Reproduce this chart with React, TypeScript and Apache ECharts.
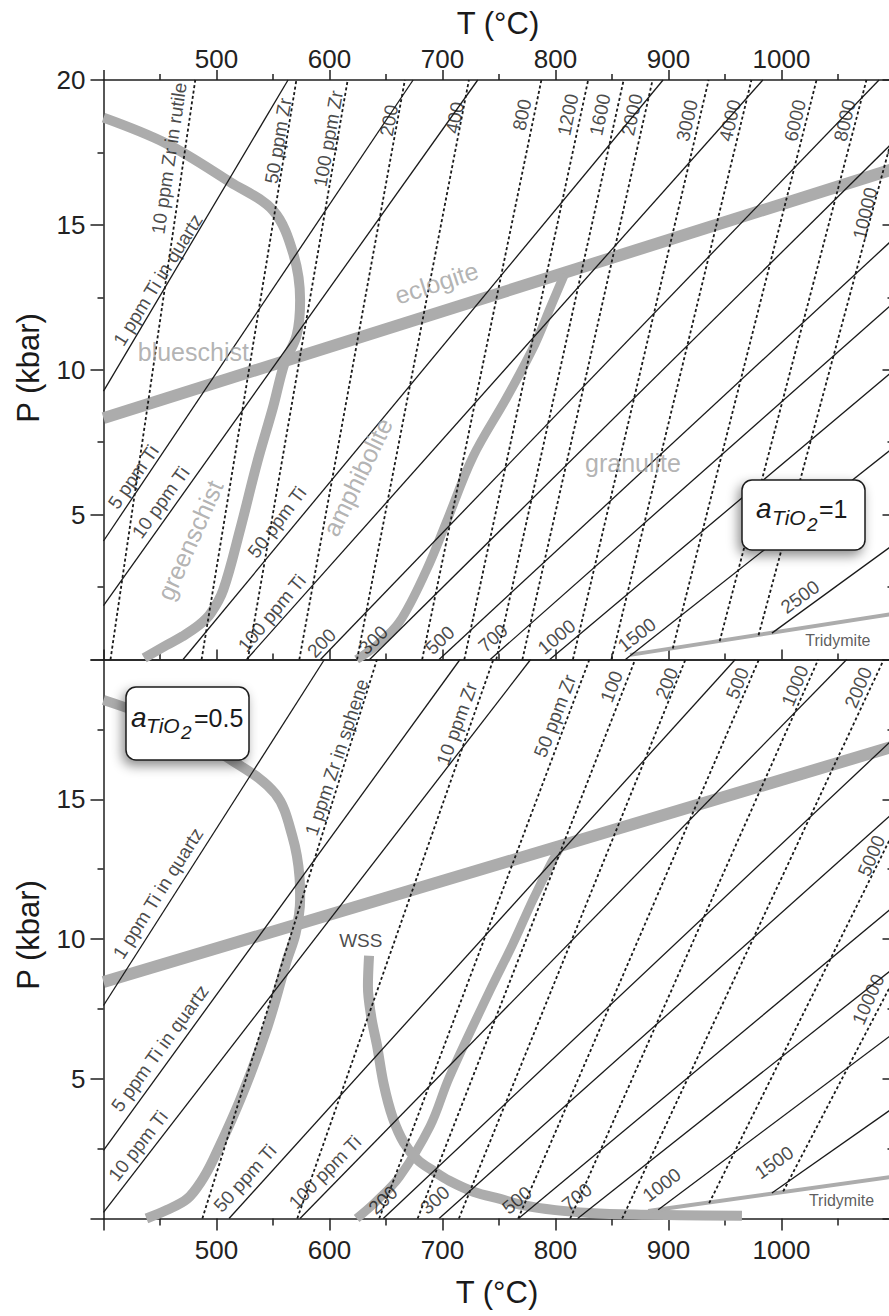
import React, { useEffect, useRef } from "react";
import * as echarts from "echarts";

const FONT = "'Liberation Sans', Arial, Helvetica, sans-serif";
const AX = "#1f1f1f";
const INK = "#1a1a1a";
const GRAY = "#acacac";
const GRAY_TEXT = "#a0a0a0";

// Axis ranges (T in °C, P in kbar)
const T_MIN = 400;
const T_MAX = 1100;
const T_STEP = 100;
const P_MIN = 0;
const P_MAX = 20;
const P_STEP = 5;

// ---------- upper panel (aTiO2 = 1) ----------
// Ti-in-quartz isopleths (1,5,10,50,100,200,300,500,700,1000,1500,2500 ppm): [T1, P1, T2, P2]
const tiQuartzA1: number[][] = [
  [400, 9.26, 563.3, 20],
  [400, 4.09, 674.0, 20],
  [400, 1.86, 731.2, 20],
  [470.4, 0, 895.2, 20],
  [526.6, 0, 983.5, 20],
  [592.0, 0, 1086.3, 20],
  [635.5, 0, 1100, 17.9],
  [697.0, 0, 1100, 14.55],
  [742.2, 0, 1100, 12.34],
  [794.9, 0, 1100, 10.0],
  [861.9, 0, 1100, 7.34],
  [991.5, 0.91, 1100, 3.99],
];
// Zr-in-rutile isopleths (10 ... 10000 ppm): [T1, P1, T2, P2]
const zrRutile: number[][] = [
  [406.2, 0, 481.2, 20],
  [486.8, 0, 570.7, 20],
  [527.7, 0, 616.1, 20],
  [573.3, 0, 666.7, 20],
  [624.4, 0, 723.4, 20],
  [682.0, 0, 787.5, 20],
  [719.3, 0, 828.9, 20],
  [747.6, 0, 860.3, 20],
  [770.7, 0, 885.9, 20],
  [815.4, 0, 935.5, 20],
  [849.5, 0, 973.4, 20],
  [903.8, 0.38, 1031.0, 20],
  [945.3, 0.63, 1075.2, 20],
  [979.7, 0.84, 1100, 18.32],
];
const eclogiteTop: number[][] = [[400, 8.33], [1100, 16.94]];
const greenschistTop: number[][] = [
  [400, 18.7], [456, 17.8], [512, 16.48], [550, 15.5], [568, 14.0], [574, 12.4],
  [571, 11.2], [560, 10.2], [550, 8.7], [536, 6.8], [521, 4.5], [506, 2.4],
  [495, 1.6], [485, 1.2], [470, 0.8], [456, 0.5], [436, 0.05],
];
const amphGranTop: number[][] = [
  [624, 0], [642, 0.5], [662, 1.3], [686, 3.1], [703, 4.7], [727, 7.0],
  [757, 9.05], [782, 10.9], [796, 12.2], [808, 13.3],
];
const tridymiteTop: number[][] = [[866, 0.16], [1100, 1.58]];

// ---------- lower panel (aTiO2 = 0.5) ----------
// Ti-in-quartz isopleths (1,5,10,50,100,200,300,500,700,1000,1500 ppm)
const tiQuartzA05: number[][] = [
  [400, 7.62, 595.5, 20],
  [400, 2.44, 715.5, 20],
  [400, 0.22, 778.0, 20],
  [511.1, 0, 959.1, 20],
  [573.9, 0, 1057.7, 20],
  [647.6, 0, 1100, 17.2],
  [697.0, 0, 1100, 14.55],
  [767.3, 0, 1100, 11.19],
  [819.6, 0, 1100, 8.98],
  [890.9, 0.31, 1100, 6.65],
  [991.5, 0.91, 1100, 3.99],
];
// Zr-in-sphene isopleths (1,10,50,100,200,500,1000,2000,5000,10000 ppm)
const zrSphene: number[][] = [
  [487.5, 0, 642, 20],
  [571.5, 0, 745, 20],
  [644, 0, 830, 20],
  [678, 0, 870.5, 20],
  [714.5, 0, 915, 20],
  [767, 0, 980, 20],
  [813, 0, 1032.5, 20],
  [859, 0, 1090.5, 20],
  [936, 0.55, 1100, 13.9],
  [1001.5, 0.97, 1100, 8.6],
];
const eclogiteBot: number[][] = [[400, 8.46], [1100, 16.9]];
const greenschistBot: number[][] = [
  [400, 18.55], [456, 17.7], [514, 16.38], [552, 15.2], [567, 13.7], [573.5, 12.2],
  [574, 11.4], [570, 10.2], [562, 9.2], [545, 6.85], [521, 4.25], [497, 2.1],
  [486, 1.3], [474, 0.7], [456, 0.3], [438, 0.0],
];
const amphGranBot: number[][] = [
  [624, 0], [641, 0.6], [662, 1.5], [689, 3.3], [706, 5.05], [742, 8.16],
  [762, 9.8], [780, 11.4], [796, 12.7], [806, 13.4],
];
const wssBot: number[][] = [
  [635, 9.4], [634, 8.3], [637, 7.2], [642, 6.2], [648, 4.8], [656, 3.6],
  [666, 2.7], [678, 2.1], [692, 1.7], [706, 1.35], [728, 0.95], [751, 0.7],
  [771, 0.48], [800, 0.3], [830, 0.2], [870, 0.14], [910, 0.12], [965, 0.1],
];
const tridymiteBot: number[][] = [[882, 0.27], [1100, 1.5]];

// ---------- annotations: [text, T, P, rotation°] ----------
const topDashedLabels: [string, number, number, number][] = [
  ["10 ppm Zr in rutile", 458, 17.3, 81.5],
  ["50 ppm Zr", 554.6, 17.9, 80.5],
  ["100 ppm Zr", 599, 17.97, 80],
  ["200", 652.7, 18.6, 79.5],
  ["400", 711, 18.7, 79],
  ["800", 770.4, 18.8, 78.5],
  ["1200", 811, 18.8, 78],
  ["1600", 839.4, 18.8, 78],
  ["2000", 867.7, 18.8, 77.5],
  ["3000", 916.4, 18.6, 77.5],
  ["4000", 954.4, 18.6, 77],
  ["6000", 1012, 18.6, 77],
  ["8000", 1056, 18.6, 76.5],
  ["10000", 1074, 15.4, 76.5],
];
const topSolidLabels: [string, number, number, number][] = [
  ["1 ppm Ti in quartz", 448.2, 13.1, 58],
  ["5 ppm Ti", 426.4, 6.3, 55],
  ["10 ppm Ti", 450.6, 5.42, 54],
  ["50 ppm Ti", 553.5, 4.74, 53],
  ["100 ppm Ti", 549, 1.6, 50],
  ["200", 593, 0.57, 46],
  ["300", 638.8, 0.67, 44.5],
  ["500", 697.8, 0.67, 43],
  ["700", 744.7, 0.74, 41.5],
  ["1000", 801, 0.78, 40],
  ["1500", 872, 0.85, 38.5],
  ["2500", 1016.4, 2.16, 36],
];
const topFaciesLabels: [string, number, number, number][] = [
  ["blueschist", 479.5, 10.6, 0],
  ["eclogite", 694.7, 13.0, 18],
  ["greenschist", 476.5, 4.12, 66],
  ["amphibolite", 624.8, 6.3, 64],
  ["granulite", 868.6, 6.78, 0],
];
const botDashedLabels: [string, number, number, number][] = [
  ["1 ppm Zr in sphene", 606.4, 16.5, 71.5],
  ["10 ppm Zr", 712.7, 17.7, 70],
  ["50 ppm Zr", 799.6, 17.98, 69],
  ["100", 849.7, 19.03, 69],
  ["200", 898.4, 19.15, 68.5],
  ["500", 961, 19.15, 68],
  ["1000", 1012, 19.06, 67.5],
  ["2000", 1068, 19.0, 67],
  ["5000", 1079.6, 12.98, 67],
  ["10000", 1076.8, 7.84, 66],
];
const botSolidLabels: [string, number, number, number][] = [
  ["1 ppm Ti in quartz", 448.2, 11.63, 57.5],
  ["5 ppm Ti in quartz", 450, 6.09, 54],
  ["10 ppm Ti", 430.5, 2.6, 52],
  ["50 ppm Ti", 525.2, 1.44, 48],
  ["100 ppm Ti", 596, 1.66, 45.5],
  ["200", 647.4, 0.66, 43],
  ["300", 693.4, 0.66, 42],
  ["500", 765.9, 0.66, 40],
  ["700", 819, 0.77, 38.5],
  ["1000", 894, 1.2, 37],
  ["1500", 993.4, 2.0, 35],
];

function buildOption(): any {
  const series: any[] = [];
  const axesOf = (panel: number) =>
    panel === 0 ? { xAxisIndex: 0, yAxisIndex: 0 } : { xAxisIndex: 3, yAxisIndex: 2 };

  const addSegments = (segs: number[][], panel: number, dashed: boolean) => {
    segs.forEach((s) => {
      series.push({
        type: "line",
        ...axesOf(panel),
        data: [[s[0], s[1]], [s[2], s[3]]],
        symbol: "none",
        silent: true,
        clip: true,
        z: 3,
        lineStyle: dashed
          ? { color: INK, width: 1.8, type: [3, 2.5] }
          : { color: INK, width: 1.3 },
      });
    });
  };
  const addCurve = (pts: number[][], panel: number, width: number, smooth: number) => {
    series.push({
      type: "line",
      ...axesOf(panel),
      data: pts,
      symbol: "none",
      silent: true,
      clip: true,
      smooth,
      z: 2,
      lineStyle: { color: GRAY, width, cap: "butt", join: "round" },
    });
  };
  const addLabels = (
    items: [string, number, number, number][],
    panel: number,
    fontSize: number,
    color: string
  ) => {
    series.push({
      type: "scatter",
      ...axesOf(panel),
      symbolSize: 1,
      itemStyle: { color: "rgba(0,0,0,0)" },
      silent: true,
      z: 5,
      label: {
        show: true,
        position: "inside",
        formatter: "{b}",
        fontSize,
        color,
        fontFamily: FONT,
        align: "center",
        verticalAlign: "middle",
      },
      data: items.map((it) => ({ name: it[0], value: [it[1], it[2]], label: { rotate: it[3] } })),
    });
  };

  // upper panel
  addCurve(eclogiteTop, 0, 12, 0);
  addCurve(greenschistTop, 0, 10, 0.35);
  addCurve(amphGranTop, 0, 9, 0.35);
  addCurve(tridymiteTop, 0, 4, 0);
  addSegments(tiQuartzA1, 0, false);
  addSegments(zrRutile, 0, true);
  addLabels(topDashedLabels, 0, 19, INK);
  addLabels(topSolidLabels, 0, 19, INK);
  addLabels(topFaciesLabels, 0, 25, GRAY_TEXT);
  addLabels([["Tridymite", 1049.9, 0.64, 0]], 0, 16, "#333");

  // lower panel
  addCurve(eclogiteBot, 1, 12, 0);
  addCurve(greenschistBot, 1, 10, 0.35);
  addCurve(amphGranBot, 1, 9, 0.35);
  addCurve(wssBot, 1, 10, 0.35);
  addCurve(tridymiteBot, 1, 4, 0);
  addSegments(tiQuartzA05, 1, false);
  addSegments(zrSphene, 1, true);
  addLabels(botDashedLabels, 1, 19, INK);
  addLabels(botSolidLabels, 1, 19, INK);
  addLabels([["Tridymite", 1053.1, 0.63, 0]], 1, 16, "#333");
  addLabels([["WSS", 627.7, 9.96, 0]], 1, 19, INK);

  const tLabel = (v: number) => (v > T_MIN && v < T_MAX ? String(v) : "");
  const lineS = { color: AX, width: 1.5 };
  const labelS = { fontSize: 26, color: "#222", fontFamily: FONT };

  const xBase = (gridIndex: number, position: string) => ({
    type: "value",
    gridIndex,
    position,
    min: T_MIN,
    max: T_MAX,
    interval: T_STEP,
    axisLine: { show: true, onZero: false, lineStyle: lineS },
    splitLine: { show: false },
    minorSplitLine: { show: false },
  });
  const yBase = (gridIndex: number, position: string) => ({
    type: "value",
    gridIndex,
    position,
    min: P_MIN,
    max: P_MAX,
    interval: P_STEP,
    axisLine: { show: true, onZero: false, lineStyle: lineS },
    splitLine: { show: false },
    minorSplitLine: { show: false },
  });

  const xAxis = [
    {
      ...xBase(0, "top"),
      axisTick: { show: true, length: 10, lineStyle: lineS },
      minorTick: { show: true, splitNumber: 2, length: 6, lineStyle: lineS },
      axisLabel: { show: true, margin: 8, formatter: tLabel, ...labelS },
    },
    {
      ...xBase(0, "bottom"),
      axisTick: { show: true, inside: true, length: 10, lineStyle: lineS },
      minorTick: { show: true, splitNumber: 2, length: 6, lineStyle: lineS },
      axisLabel: { show: false },
    },
    {
      ...xBase(1, "top"),
      axisTick: { show: false },
      minorTick: { show: false },
      axisLabel: { show: false },
    },
    {
      ...xBase(1, "bottom"),
      axisTick: { show: true, length: 12, lineStyle: lineS },
      minorTick: { show: true, splitNumber: 2, length: 7, lineStyle: lineS },
      axisLabel: { show: true, margin: 18, formatter: tLabel, ...labelS },
    },
  ];
  const yAxis = [
    {
      ...yBase(0, "left"),
      axisTick: { show: true, length: 13, lineStyle: lineS },
      minorTick: { show: true, splitNumber: 2, length: 6, lineStyle: lineS },
      axisLabel: {
        show: true,
        margin: 18,
        formatter: (v: number) => (v === 0 ? "" : String(v)),
        ...labelS,
      },
    },
    {
      ...yBase(0, "right"),
      axisTick: { show: true, inside: true, length: 12, lineStyle: lineS },
      minorTick: { show: true, splitNumber: 2, length: 7, lineStyle: lineS },
      axisLabel: { show: false },
    },
    {
      ...yBase(1, "left"),
      axisTick: { show: true, length: 13, lineStyle: lineS },
      minorTick: { show: true, splitNumber: 2, length: 6, lineStyle: lineS },
      axisLabel: {
        show: true,
        margin: 18,
        formatter: (v: number) => (v === 0 || v === 20 ? "" : String(v)),
        ...labelS,
      },
    },
    {
      ...yBase(1, "right"),
      axisTick: { show: true, inside: true, length: 12, lineStyle: lineS },
      minorTick: { show: true, splitNumber: 2, length: 7, lineStyle: lineS },
      axisLabel: { show: false },
    },
  ];

  const boxStyle = {
    fill: "#fff",
    stroke: INK,
    lineWidth: 1.5,
    shadowBlur: 12,
    shadowOffsetX: -3,
    shadowOffsetY: 5,
    shadowColor: "rgba(0,0,0,0.45)",
  };
  const txt = (
    text: string,
    x: number,
    y: number,
    fontSize: number,
    italic: boolean,
    align = "left",
    rotation = 0
  ) => ({
    type: "text",
    x,
    y,
    rotation,
    z: 120,
    silent: true,
    style: {
      text,
      fontSize,
      fontFamily: FONT,
      fontStyle: italic ? "italic" : "normal",
      fill: INK,
      align,
      verticalAlign: "middle",
    },
  });

  const graphic = [
    txt("T (°C)", 498, 23, 31, false, "center"),
    txt("T (°C)", 497, 1292, 31, false, "center"),
    txt("P (kbar)", 28, 368, 31, false, "center", Math.PI / 2),
    txt("P (kbar)", 28, 935, 31, false, "center", Math.PI / 2),
    {
      type: "rect",
      x: 742,
      y: 480,
      z: 110,
      silent: true,
      shape: { x: 0, y: 0, width: 123, height: 70, r: 10 },
      style: boxStyle,
    },
    txt("a", 756, 508, 28, true),
    txt("TiO", 772, 517.5, 21, true),
    txt("2", 807, 524, 19, true),
    txt("=1", 819, 509, 25, false),
    {
      type: "rect",
      x: 126,
      y: 687,
      z: 110,
      silent: true,
      shape: { x: 0, y: 0, width: 123, height: 73, r: 10 },
      style: boxStyle,
    },
    txt("a", 131, 717, 28, true),
    txt("TiO", 146, 725.5, 21, true),
    txt("2", 181, 732, 19, true),
    txt("=0.5", 194, 718, 25, false),
  ];

  return {
    animation: false,
    backgroundColor: "#fff",
    grid: [
      { left: 103.5, top: 80, width: 791, height: 579.5 },
      { left: 103.5, top: 659.5, width: 791, height: 559 },
    ],
    xAxis,
    yAxis,
    series,
    graphic,
  };
}

export default function App() {
  const ref = useRef<HTMLDivElement>(null);
  useEffect(() => {
    if (!ref.current) return;
    const chart = echarts.init(ref.current, null, { renderer: "svg" });
    chart.setOption(buildOption());
    return () => chart.dispose();
  }, []);
  return (
    <div
      style={{
        position: "absolute",
        left: 0,
        top: 0,
        width: 889,
        height: 1316,
        overflow: "hidden",
        background: "#fff",
      }}
    >
      <div ref={ref} style={{ width: 900, height: 1316 }} />
    </div>
  );
}
